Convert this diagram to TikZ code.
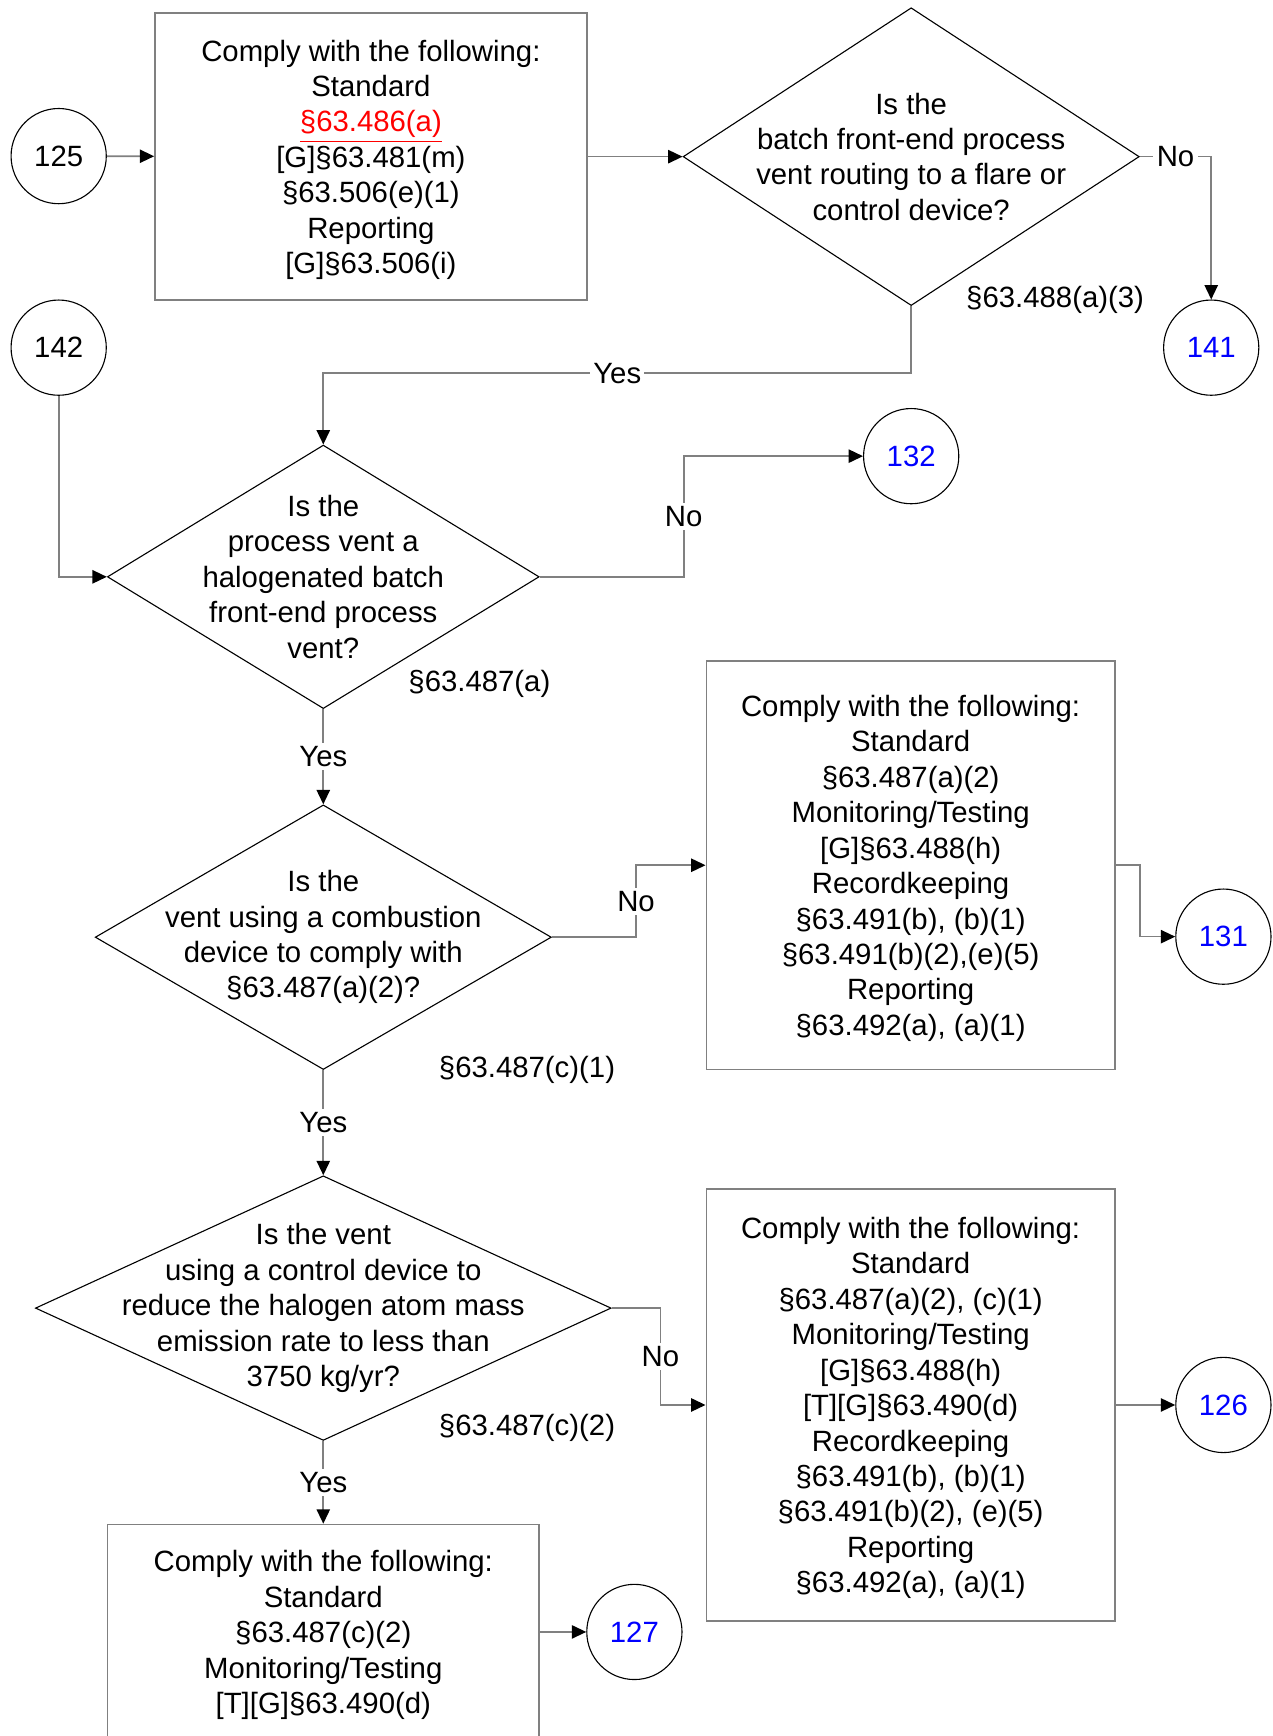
\documentclass[tikz,border=0pt]{standalone}
\usepackage{fontspec}
\setmainfont{Liberation Sans}
\usetikzlibrary{arrows.meta,shapes.geometric,positioning}
\definecolor{wire}{RGB}{128,128,128}
\definecolor{linkblue}{RGB}{0,0,255}
\definecolor{cfrred}{RGB}{255,0,0}

\begin{document}
\begin{tikzpicture}[x=0.5pt,y=-0.5pt,
    font=\fontsize{13.25pt}{16pt}\selectfont,
    every node/.style={align=center},
    conn/.style={wire,line width=0.75pt,-{Triangle[length=6.5pt,width=6pt,color=black]}},
    lbl/.style={fill=white,inner sep=1.5pt,text=black},
    ask/.style={diamond,draw,line width=0.5pt,inner sep=0pt},
    rule/.style={rectangle,draw=wire,line width=0.75pt,inner sep=0pt,text depth=0pt},
    stop/.style={circle,draw,line width=0.5pt,minimum size=43pt,inner sep=0pt},
    jump/.style={stop,text=linkblue}]
  \useasboundingbox (0,0) rectangle (1149,1568);

  % top row
  \node[stop] (c125) at (53,141) {125};
  \node[rule,minimum width=195pt,minimum height=129.5pt] (b1) at (335,141.5)
    {Comply with the following:\\Standard\\{\color{cfrred}\underline{§63.486(a)}}\\{[G]}§63.481(m)\\§63.506(e)(1)\\Reporting\\{[G]}§63.506(i)};
  \node[ask,minimum width=206pt,minimum height=134.5pt] (d1) at (823,141.5) {};
  \node (q1) at (d1) {Is the\\batch front-end process\\vent routing to a flare or\\control device?};
  \node (r1) at (953,271) {§63.488(a)(3)};
  \node[jump] (c141) at (1094,314) {141};
  \node[stop] (c142) at (53,314) {142};

  % halogenated vent
  \node[ask,minimum width=195pt,minimum height=119pt] (d2) at (292,521) {};
  \node (q2) at (d2) {Is the\\process vent a\\halogenated batch\\front-end process\\vent?};
  \node (r2) at (433,618) {§63.487(a)};
  \node[jump] (c132) at (823,412) {132};

  % combustion device
  \node[ask,minimum width=206pt,minimum height=119.5pt] (d3) at (292,846.5) {};
  \node (q3) at (d3) {Is the\\vent using a combustion\\device to comply with\\§63.487(a)(2)?};
  \node (r3) at (476,966) {§63.487(c)(1)};
  \node[rule,minimum width=184.5pt,minimum height=184.5pt] (b2) at (822.5,781.5)
    {Comply with the following:\\Standard\\§63.487(a)(2)\\Monitoring/Testing\\{[G]}§63.488(h)\\Recordkeeping\\§63.491(b), (b)(1)\\§63.491(b)(2),(e)(5)\\Reporting\\§63.492(a), (a)(1)};
  \node[jump] (c131) at (1105,846) {131};

  % control device
  \node[ask,minimum width=260pt,minimum height=119.5pt] (d4) at (292,1181.5) {};
  \node (q4) at (d4) {Is the vent\\using a control device to\\reduce the halogen atom mass\\emission rate to less than\\3750 kg/yr?};
  \node (r4) at (476,1290) {§63.487(c)(2)};
  \node[rule,minimum width=184.5pt,minimum height=195pt] (b3) at (822.5,1269)
    {Comply with the following:\\Standard\\§63.487(a)(2), (c)(1)\\Monitoring/Testing\\{[G]}§63.488(h)\\{[T][G]}§63.490(d)\\Recordkeeping\\§63.491(b), (b)(1)\\§63.491(b)(2), (e)(5)\\Reporting\\§63.492(a), (a)(1)};
  \node[jump] (c126) at (1105,1269) {126};
  \node[rule,minimum width=195pt,minimum height=97pt] (b4) at (292,1474)
    {Comply with the following:\\Standard\\§63.487(c)(2)\\Monitoring/Testing\\{[T][G]}§63.490(d)};
  \node[jump] (c127) at (573,1474) {127};

  % connectors
  \coordinate (j1) at (823,337);
  \draw[conn] (c125) -- (b1);
  \draw[conn] (b1) -- (d1);
  \draw[conn] (d1.east) -| node[lbl,pos=0.25] {No} (c141);
  \draw[conn] (d1.south) -- (j1) -| node[lbl,pos=0.25] {Yes} (d2.north);
  \draw[conn] (c142) |- (d2.west);
  \draw[conn] (d2.east) -- ++(130,0) |- node[lbl,pos=0.25] {No} (c132);
  \draw[conn] (d2) -- node[lbl] {Yes} (d3);
  \draw[conn] (d3.east) -- ++(76,0) |- node[lbl,pos=0.25] {No} (b2);
  \draw[conn] (b2.east) -- ++(22,0) |- (c131);
  \draw[conn] (d3) -- node[lbl] {Yes} (d4);
  \draw[conn] (d4.east) -- ++(44,0) |- node[lbl,pos=0.25] {No} (b3);
  \draw[conn] (b3) -- (c126);
  \draw[conn] (d4) -- node[lbl] {Yes} (b4);
  \draw[conn] (b4) -- (c127);
\end{tikzpicture}
\end{document}
